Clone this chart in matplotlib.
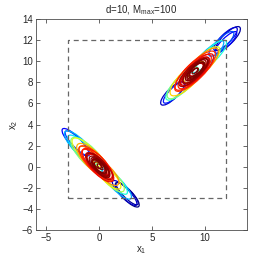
import numpy as np
import matplotlib
matplotlib.use('Agg')
import matplotlib.pyplot as plt
from matplotlib.patches import Ellipse

plt.rcParams['font.family'] = ['Liberation Sans', 'DejaVu Sans']
plt.rcParams['mathtext.fontset'] = 'custom'
plt.rcParams['mathtext.rm'] = 'Liberation Sans'
plt.rcParams['mathtext.it'] = 'Liberation Sans'

# mixture components, two groups
# t: offset along main axis, s: offset across, a/b: half axes, w: weight (colour)
centro_a = (0.0, 0.05)
angulo_a = -45.5
t_a = [3.8, 3.7, 3.5, -3.2, -3.0, -2.6, -2.2, 2.4, 2.0, -1.4, 1.5, -1.8, 1.2,
       -0.8, 0.9, -1.2, -0.4, -0.3, 0.2, -0.2, 0.4, -0.5, 0.1, -0.6,
       0.0, -0.1, 0.2, -0.3, 0.1, -0.2, 0.3, 0.0]
s_a = [0.0, 0.08, -0.05, 0.0, 0.05, 0.0, -0.05, 0.0, 0.05, 0.0, 0.0, 0.05, -0.05,
       0.0, 0.05, -0.05, 0.0, 0.05, -0.05, 0.0, 0.03, -0.03, 0.06, -0.06,
       0.0, 0.02, -0.02, 0.0, 0.03, 0.04, -0.04, 0.0]
a_a = [1.55, 1.45, 1.6, 1.75, 1.6, 2.0, 1.9, 1.9, 1.7, 2.3, 1.8, 1.8, 1.7,
       2.1, 1.6, 1.4, 2.2, 1.9, 1.7, 1.5, 1.3, 1.2, 1.0, 1.6,
       1.25, 0.95, 0.75, 0.55, 0.35, 1.4, 1.1, 0.85]
b_a = [0.48, 0.40, 0.44, 0.50, 0.44, 0.65, 0.60, 0.55, 0.52, 0.80, 0.62, 0.65, 0.56,
       0.78, 0.62, 0.56, 0.75, 0.70, 0.66, 0.60, 0.54, 0.50, 0.44, 0.62,
       0.50, 0.40, 0.32, 0.24, 0.15, 0.56, 0.46, 0.36]
w_a = [0.0, 0.03, 0.06, 0.12, 0.18, 0.30, 0.35, 0.30, 0.38, 0.50, 0.55, 0.62, 0.66,
       0.72, 0.75, 0.78, 0.85, 0.88, 0.90, 0.92, 0.94, 0.95, 0.93, 0.87,
       0.98, 1.0, 1.0, 1.0, 1.0, 0.97, 0.99, 0.99]

centro_b = (9.1, 9.05)
angulo_b = 44.5
t_b = [4.4, 4.2, 4.0, 3.6, 1.8, -3.0, -2.8, -2.0, 2.2, -1.6, 1.2, -1.0, 0.8,
       0.0, -0.2, 0.2, 0.0, 0.3, -0.3, 0.5, -0.6,
       0.05, 0.0, 0.2, -0.2, 0.0, -0.3, 0.3, 0.1]
s_b = [0.0, 0.15, -0.1, 0.1, 0.15, 0.0, -0.05, 0.0, 0.0, 0.0, 0.0, 0.0, 0.0,
       0.0, 0.05, -0.05, 0.0, 0.0, 0.0, 0.05, -0.05,
       0.0, 0.0, 0.0, 0.0, 0.02, 0.04, -0.04, 0.0]
a_b = [1.55, 1.5, 1.4, 1.6, 2.1, 1.5, 1.4, 1.8, 1.9, 2.0, 2.0, 2.2, 2.2,
       2.6, 2.3, 2.1, 1.8, 1.5, 1.3, 1.1, 1.6,
       1.55, 1.2, 0.9, 0.6, 0.35, 1.7, 1.35, 1.05]
b_b = [0.52, 0.46, 0.40, 0.48, 0.55, 0.50, 0.44, 0.62, 0.62, 0.70, 0.68, 0.76, 0.74,
       0.80, 0.74, 0.68, 0.64, 0.56, 0.52, 0.46, 0.62,
       0.54, 0.42, 0.33, 0.24, 0.15, 0.60, 0.48, 0.38]
w_b = [0.03, 0.08, 0.12, 0.20, 0.30, 0.06, 0.15, 0.40, 0.38, 0.50, 0.62, 0.68, 0.75,
       0.85, 0.88, 0.90, 0.92, 0.94, 0.95, 0.93, 0.87,
       0.98, 1.0, 1.0, 1.0, 1.0, 0.97, 0.99, 0.99]

caixa = [-3, 12]
titulo = r'd=10, M$_{\mathrm{max}}$=100'

fig = plt.figure(figsize=(2.72, 2.60), dpi=100)
ax = fig.add_axes([0.132, 0.115, 0.775, 0.812])
cmap = plt.get_cmap('jet')


def desenha(centro, angulo, t, s, a, b, w):
    th = np.deg2rad(angulo)
    u = np.array([np.cos(th), np.sin(th)])
    n = np.array([-np.sin(th), np.cos(th)])
    ordem = np.argsort(w, kind='stable')
    for i in ordem:
        c = np.array(centro) + t[i] * u + s[i] * n
        e = Ellipse(c, 2 * a[i], 2 * b[i], angle=angulo, fill=False,
                    edgecolor=cmap(w[i]), lw=0.9)
        ax.add_patch(e)


desenha(centro_a, angulo_a, t_a, s_a, a_a, b_a, w_a)
desenha(centro_b, angulo_b, t_b, s_b, a_b, b_b, w_b)

# caixa tracejada
ax.plot([caixa[0], caixa[1], caixa[1], caixa[0], caixa[0]],
        [caixa[0], caixa[0], caixa[1], caixa[1], caixa[0]],
        color='0.4', lw=0.9, dashes=(4, 3))

ax.set_xlim(-6, 14)
ax.set_ylim(-6, 14)
ax.set_xticks([-5, 0, 5, 10])
ax.set_yticks(np.arange(-6, 15, 2))
ax.tick_params(direction='in', top=True, right=True, labelsize=7, length=3,
               width=0.6, color='0.3', labelcolor='0.15', pad=2)
for sp in ax.spines.values():
    sp.set_linewidth(0.6)
    sp.set_color('0.3')
ax.set_xlabel('x$_1$', fontsize=7, labelpad=1, color='0.15')
ax.set_ylabel('x$_2$', fontsize=7, labelpad=1, color='0.15')
ax.set_title(titulo, fontsize=7, pad=4, color='0.15')

plt.savefig('out.png', dpi=100)
